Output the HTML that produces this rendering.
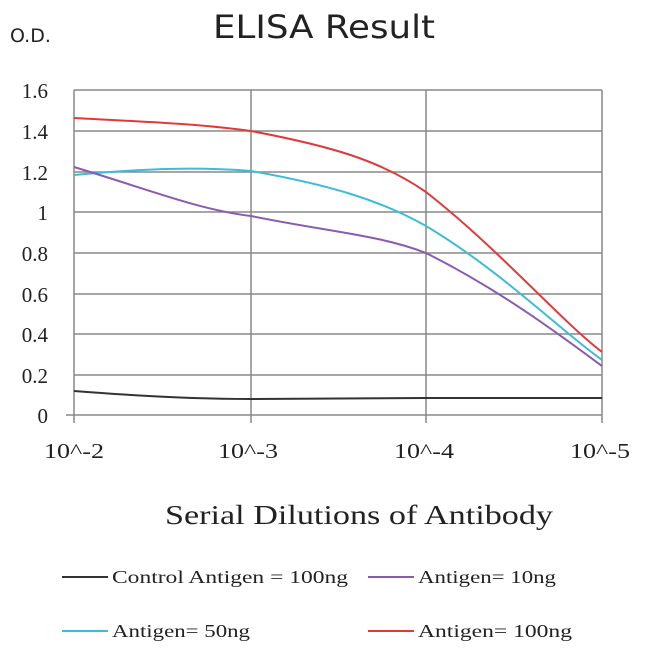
<!DOCTYPE html>
<html><head><style>body{margin:0;background:#fff}</style></head><body>
<svg width="650" height="650" xmlns="http://www.w3.org/2000/svg">
<text x="10" y="42" font-family="DejaVu Sans, sans-serif" font-size="19" fill="#222">O.D.</text>
<text x="213" y="38" font-family="DejaVu Sans, sans-serif" font-size="32" fill="#222" textLength="222" lengthAdjust="spacingAndGlyphs">ELISA Result</text>
<g stroke="#888" stroke-width="1.5">
<line x1="74" y1="90" x2="602" y2="90"/><line x1="74" y1="131" x2="602" y2="131"/><line x1="74" y1="172" x2="602" y2="172"/><line x1="74" y1="212" x2="602" y2="212"/><line x1="74" y1="253" x2="602" y2="253"/><line x1="74" y1="294" x2="602" y2="294"/><line x1="74" y1="334" x2="602" y2="334"/><line x1="74" y1="375" x2="602" y2="375"/><line x1="66" y1="415" x2="602" y2="415"/>
<line x1="74" y1="90" x2="74" y2="423"/><line x1="251" y1="90" x2="251" y2="423"/><line x1="426" y1="90" x2="426" y2="423"/><line x1="602" y1="90" x2="602" y2="423"/>
</g>
<g font-family="Liberation Serif, serif" font-size="21" fill="#222" text-anchor="end">
<text x="48" y="98">1.6</text><text x="48" y="139">1.4</text><text x="48" y="180">1.2</text><text x="48" y="220">1</text><text x="48" y="261">0.8</text><text x="48" y="302">0.6</text><text x="48" y="342">0.4</text><text x="48" y="383">0.2</text><text x="48" y="423">0</text>
</g>
<g font-family="Liberation Serif, serif" font-size="21" fill="#222">
<text x="44" y="458" textLength="60" lengthAdjust="spacingAndGlyphs">10^-2</text><text x="218" y="458" textLength="60" lengthAdjust="spacingAndGlyphs">10^-3</text><text x="394" y="458" textLength="60" lengthAdjust="spacingAndGlyphs">10^-4</text><text x="570" y="458" textLength="60" lengthAdjust="spacingAndGlyphs">10^-5</text>
</g>
<g fill="none" stroke-width="2">
<path d="M74,118 C150,122 200,124 251,131 C330,146 380,160 426,192 C500,250 560,320 602,352" stroke="#e0393a"/>
<path d="M74,175 C150,168 200,167 251,171 C330,185 380,200 426,226 C500,270 560,330 602,360" stroke="#3cbcd8"/>
<path d="M74,167 C150,190 200,210 251,216 C330,232 380,235 426,253 C500,290 560,335 602,366" stroke="#8a5bb0"/>
<path d="M74,391 C150,397 200,399 251,399 C330,399 380,398 426,398 C500,398 560,398 602,398" stroke="#333"/>
</g>
<text x="165" y="524" font-family="Liberation Serif, serif" font-size="27" fill="#222" textLength="388" lengthAdjust="spacingAndGlyphs">Serial Dilutions of Antibody</text>
<g font-family="Liberation Serif, serif" font-size="18" fill="#222">
<line x1="62" y1="577" x2="108" y2="577" stroke="#333" stroke-width="2"/><text x="112" y="583" textLength="236" lengthAdjust="spacingAndGlyphs">Control Antigen = 100ng</text>
<line x1="368" y1="577" x2="414" y2="577" stroke="#8a5bb0" stroke-width="2"/><text x="418" y="583" textLength="138" lengthAdjust="spacingAndGlyphs">Antigen= 10ng</text>
<line x1="62" y1="631" x2="108" y2="631" stroke="#3cbcd8" stroke-width="2"/><text x="112" y="637" textLength="138" lengthAdjust="spacingAndGlyphs">Antigen= 50ng</text>
<line x1="368" y1="631" x2="414" y2="631" stroke="#e0393a" stroke-width="2"/><text x="418" y="637" textLength="154" lengthAdjust="spacingAndGlyphs">Antigen= 100ng</text>
</g>
</svg>
</body></html>
